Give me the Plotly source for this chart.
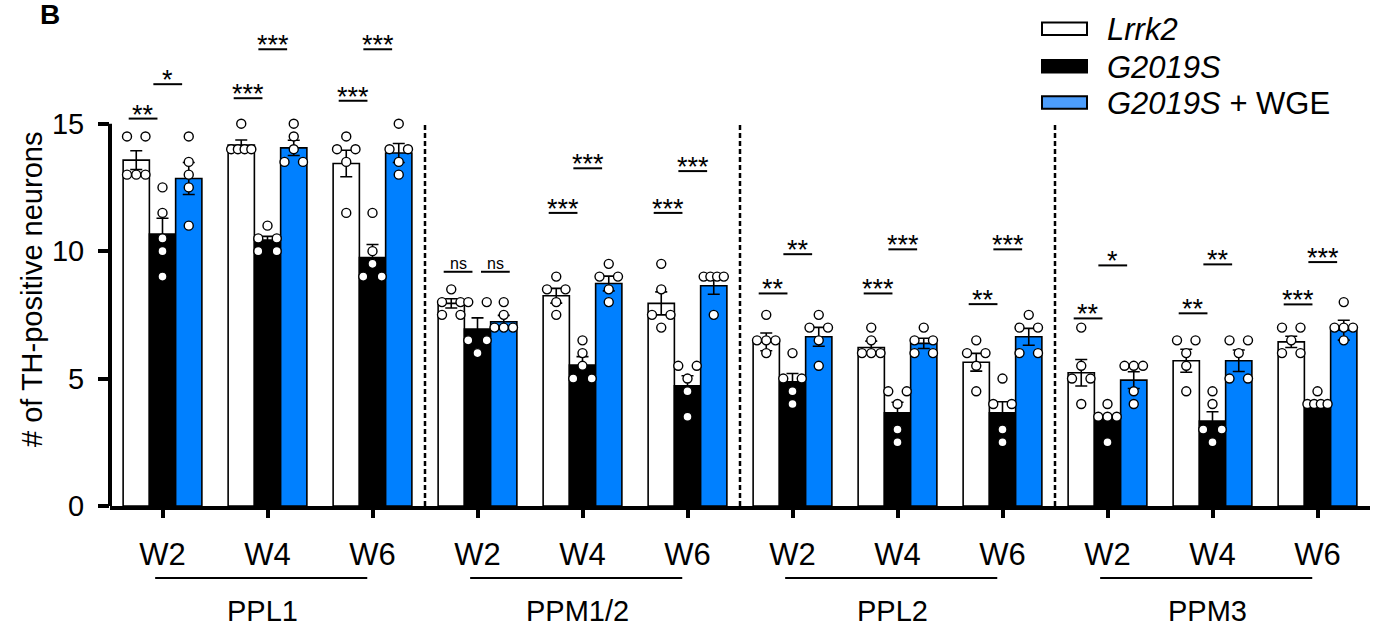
import numpy as np
import plotly.graph_objects as go

# ---------------- data ----------------
regions = ["PPL1", "PPM1/2", "PPL2", "PPM3"]
weeks = ["W2", "W4", "W6"]
series_names = ["<i>Lrrk2</i>", "<i>G2019S</i>", "<i>G2019S</i> + WGE"]

mean_lrrk2 = [13.57, 14.16, 13.44, 7.95, 8.25, 7.95, 6.44, 6.22, 5.64, 5.23, 5.70, 6.44]
mean_g2019s = [10.67, 10.43, 9.75, 6.94, 5.53, 4.72, 4.87, 3.66, 3.66, 3.40, 3.33, 3.89]
mean_wge = [12.85, 14.05, 13.85, 7.23, 8.73, 8.64, 6.64, 6.38, 6.64, 4.94, 5.70, 6.90]

sem_lrrk2 = [0.37, 0.20, 0.52, 0.18, 0.29, 0.45, 0.35, 0.25, 0.35, 0.52, 0.45, 0.22]
sem_g2019s = [0.62, 0.15, 0.51, 0.44, 0.33, 0.39, 0.33, 0.41, 0.43, 0.12, 0.37, 0.22]
sem_wge = [0.63, 0.30, 0.37, 0.25, 0.29, 0.33, 0.37, 0.20, 0.33, 0.33, 0.42, 0.39]

pts_lrrk2 = [
    [14.5, 14.5, 13, 13, 13], [15, 14, 14, 14, 14], [14.5, 14, 14, 13.5, 11.5],
    [8.5, 8, 8, 7.5, 7.5], [9, 8.5, 8.5, 8, 7.5], [9.5, 8.5, 7.5, 7.5, 7],
    [7.5, 6.5, 6.5, 6.5, 6], [7, 6.5, 6, 6, 6], [6.5, 6, 6, 5.5, 4.5],
    [7, 5.5, 5, 5, 4], [6.5, 6.5, 6, 5.5, 4.5], [7, 7, 6.5, 6, 6],
]
pts_g2019s = [
    [12.5, 11.5, 10.5, 10, 9], [11, 10.5, 10.5, 10, 10], [11.5, 10, 9.5, 9, 9],
    [8, 8, 6.5, 6.5, 6], [6.5, 6, 5.5, 5, 5], [5.5, 5.5, 5, 4.5, 3.5],
    [6, 5, 5, 4.5, 4], [4.5, 4.5, 4, 3, 2.5], [5, 4, 4, 3, 2.5],
    [4, 3.5, 3.5, 3.5, 2.5], [4.5, 4, 3, 3, 2.5], [4.5, 4, 4, 4, 4],
]
pts_wge = [
    [14.5, 13.5, 13, 12.5, 11], [15, 14.5, 14, 13.5, 13.5], [15, 14, 14, 13.5, 13],
    [8, 7.5, 7, 7, 7], [9.5, 9, 9, 8.5, 8], [9, 9, 9, 9, 7.5],
    [7.5, 7, 7, 6.5, 5.5], [7, 6.5, 6.5, 6, 6], [7.5, 7, 7, 6, 6],
    [5.5, 5.5, 5.5, 4.5, 4], [6.5, 6.5, 6, 5, 5], [8, 7, 7, 7, 6.5],
]

# significance: (group index, comparison side, label, line height)
sig_group = [0, 0, 1, 1, 2, 2, 3, 3, 4, 4, 5, 5, 6, 6, 7, 7, 8, 8, 9, 9, 10, 10, 11, 11]
sig_side = ["L", "R"] * 12
sig_label = ["**", "*", "***", "***", "***", "***",
             "ns", "ns", "***", "***", "***", "***",
             "**", "**", "***", "***", "**", "***",
             "**", "*", "**", "**", "***", "***"]
sig_y = [15.2, 16.55, 16.0, 17.92, 15.9, 17.92,
         9.19, 9.19, 11.5, 13.25, 11.5, 13.14,
         8.34, 9.88, 8.34, 10.07, 7.92, 10.07,
         7.36, 9.44, 7.56, 9.48, 7.91, 9.57]

y_ticks = [0, 5, 10, 15]

# ---------------- styling ----------------
FONT = "Liberation Sans, Arial, Helvetica, sans-serif"
BLUE = "#0080ff"
LEG_BLUE = "#4c9dfb"
fills = ["white", "black", BLUE]
W, H = 1373, 635
ML, MR, MT, MB = 110, 3, 9, 129
PW, PH = W - ML - MR, H - MT - MB
Y_TOP = 19.5

def px_x(px):
    return (px - ML) / PW

def px_y(py):
    return (H - MB - py) / PH

n_groups = len(regions) * len(weeks)
pos = np.arange(n_groups)
tick_text = [w for _ in regions for w in weeks]
bar_w = 0.25
offsets = [-bar_w, 0.0, bar_w]
dot_step = 0.088
dot_step_dense = 0.064

def swarm(vals):
    vals = list(vals)
    out = [0.0] * len(vals)
    groups = {}
    for i, v in enumerate(vals):
        groups.setdefault(v, []).append(i)
    for v, idx in groups.items():
        n = len(idx)
        if n == 1:
            offs = [0.0]
        elif n == 2:
            offs = [-dot_step, dot_step]
        elif n == 3:
            offs = [-dot_step, 0.0, dot_step]
        else:
            offs = [(k - (n - 1) / 2) * dot_step_dense for k in range(n)]
        for k, i in enumerate(idx):
            out[i] = offs[k]
    return out

fig = go.Figure()

means = [mean_lrrk2, mean_g2019s, mean_wge]
sems = [sem_lrrk2, sem_g2019s, sem_wge]
pts = [pts_lrrk2, pts_g2019s, pts_wge]

for s in range(3):
    fig.add_trace(go.Bar(
        x=pos, y=means[s], name=series_names[s],
        marker=dict(color=fills[s], line=dict(color="black", width=1.6)),
        error_y=dict(type="data", array=sems[s], color="black", thickness=1.6, width=6),
        showlegend=False,
    ))

for s in range(3):
    xs, ys = [], []
    for g in range(n_groups):
        sw = swarm(pts[s][g])
        for v, o in zip(pts[s][g], sw):
            xs.append(pos[g] + offsets[s] + o)
            ys.append(v)
    fig.add_trace(go.Scatter(
        x=xs, y=ys, mode="markers", showlegend=False, hoverinfo="skip",
        marker=dict(size=9, color="white", line=dict(color="black", width=1.4)),
    ))

shapes = []
annotations = []

# y axis line (0..15 only)
shapes.append(dict(type="line", xref="paper", yref="y", x0=0, x1=0, y0=0, y1=15,
                   line=dict(color="black", width=4)))

# dashed separators
for k in range(1, len(regions)):
    xv = k * len(weeks) - 0.5
    shapes.append(dict(type="line", xref="x", yref="y", x0=xv, x1=xv, y0=0, y1=15,
                       line=dict(color="black", width=2.5, dash="5px,3px")))

# region underline and labels
for r, name in enumerate(regions):
    first = r * len(weeks)
    last = first + len(weeks) - 1
    shapes.append(dict(type="line", xref="x", yref="paper",
                       x0=first - 0.07, x1=last - 0.05, y0=px_y(578), y1=px_y(578),
                       line=dict(color="black", width=2)))
    annotations.append(dict(xref="x", yref="paper", x=(first + last) / 2 - 0.05, y=px_y(611),
                            text=name, showarrow=False, xanchor="center", yanchor="middle",
                            font=dict(family=FONT, size=29, color="black")))

# significance bars
side_center = {"L": -0.185, "R": 0.05}
half = 0.137
for g, sd, lab, yv in zip(sig_group, sig_side, sig_label, sig_y):
    c = pos[g] + side_center[sd]
    if lab == "ns" and sd == "R":
        c = pos[g] + 0.17
    shapes.append(dict(type="line", xref="x", yref="y", x0=c - half, x1=c + half, y0=yv, y1=yv,
                       line=dict(color="black", width=2)))
    if lab == "ns":
        annotations.append(dict(xref="x", yref="y", x=c, y=yv, text="ns", showarrow=False,
                                xanchor="center", yanchor="bottom", yshift=-2,
                                font=dict(family=FONT, size=16, color="black")))
    else:
        annotations.append(dict(xref="x", yref="y", x=c, y=yv, text=lab, showarrow=False,
                                xanchor="center", yanchor="bottom", yshift=-13,
                                font=dict(family=FONT, size=27, color="black")))

# custom legend
leg_y = [28.7, 66.3, 102.5]
leg_fill = ["white", "black", LEG_BLUE]
for i in range(3):
    shapes.append(dict(type="rect", xref="paper", yref="paper",
                       x0=px_x(1042), x1=px_x(1087), y0=px_y(leg_y[i] + 6.3), y1=px_y(leg_y[i] - 6.3),
                       fillcolor=leg_fill[i], line=dict(color="black", width=2)))
    annotations.append(dict(xref="paper", yref="paper", x=px_x(1105), y=px_y(leg_y[i] + 1),
                            text=series_names[i], showarrow=False, xanchor="left", yanchor="middle",
                            font=dict(family=FONT, size=31, color="black")))

# y title
annotations.append(dict(xref="paper", yref="paper", x=px_x(32), y=px_y(290),
                        text="# of TH-positive neurons", textangle=-90, showarrow=False,
                        xanchor="center", yanchor="middle",
                        font=dict(family=FONT, size=29, color="black")))
# panel letter
annotations.append(dict(xref="paper", yref="paper", x=px_x(50), y=px_y(15),
                        text="<b>B</b>", showarrow=False, xanchor="center", yanchor="middle",
                        font=dict(family=FONT, size=28, color="black")))

fig.update_layout(
    width=W, height=H, autosize=False,
    margin=dict(l=ML, r=MR, t=MT, b=MB, pad=0),
    paper_bgcolor="white", plot_bgcolor="white",
    barmode="group", bargap=0.25, bargroupgap=0.0,
    shapes=shapes, annotations=annotations,
    font=dict(family=FONT, color="black"),
    hovermode=False,
    xaxis=dict(range=[-0.5, n_groups - 0.5], tickmode="array", tickvals=list(pos), ticktext=tick_text,
               showline=True, linecolor="black", linewidth=3.5, ticks="outside", ticklen=8,
               tickwidth=4, tickcolor="black", showgrid=False, zeroline=False,
               tickfont=dict(family=FONT, size=31, color="black"), ticklabelstandoff=10),
    yaxis=dict(range=[0, Y_TOP], tickmode="array", tickvals=y_ticks, showline=False,
               ticks="outside", ticklen=11, tickwidth=4, tickcolor="black", showgrid=False,
               zeroline=False, tickfont=dict(family=FONT, size=29, color="black"),
               ticklabelstandoff=8),
)

fig.write_html("out.html", config={"displayModeBar": False},
               post_script="document.body.style.margin='0px';document.body.style.padding='0px';")
